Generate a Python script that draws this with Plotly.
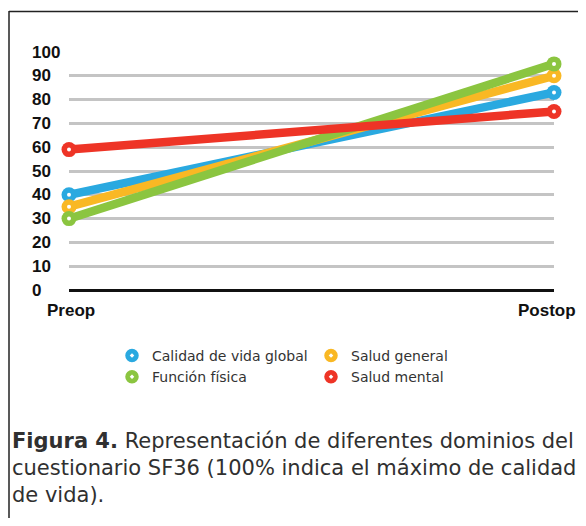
import plotly.graph_objects as go

# ---- data ----
periods = ["Preop", "Postop"]
series_names = ["Calidad de vida global", "Salud general", "Función física", "Salud mental"]
calidad_vida = [40, 83]
salud_general = [35, 90]
funcion_fisica = [30, 95]
salud_mental = [59, 75]
series_values = [calidad_vida, salud_general, funcion_fisica, salud_mental]
series_colors = ["#2AA9E0", "#F9B824", "#8BC540", "#EE3426"]
y_ticks = [0, 10, 20, 30, 40, 50, 60, 70, 80, 90, 100]
caption_lines = [
    "<b>Figura 4.</b> Representación de diferentes dominios del",
    "cuestionario SF36 (100% indica el máximo de calidad",
    "de vida).",
]

# page has an 8px body margin: figure is placed at (8, 8)
OFF = 8
W, H = 586 - 2 * OFF, 526 - 2 * OFF
PL, PR, PT, PB = 69, 554, 52, 290          # plot area in page pixels
ML, MT = PL - OFF, PT - OFF
MR, MB = W - (PR - OFF), H - (PB - OFF)
PW, PH = W - ML - MR, H - MT - MB


def px(x):
    return (x - PL) / PW


def py(y):
    return (PB - y) / PH


fig = go.Figure()
xs = [0, 1]
for name, vals, col in zip(series_names, series_values, series_colors):
    fig.add_trace(go.Scatter(
        x=xs, y=vals, mode="lines+markers", name=name, showlegend=False,
        line=dict(color=col, width=8.5), marker=dict(color=col, size=15),
        cliponaxis=False, hoverinfo="skip"))
    fig.add_trace(go.Scatter(
        x=xs, y=vals, mode="markers", showlegend=False,
        marker=dict(color="white", size=4), cliponaxis=False, hoverinfo="skip"))

# legend entries
for name, col in zip(series_names, series_colors):
    fig.add_trace(go.Scatter(
        x=[None], y=[None], mode="markers", name=name,
        marker=dict(color=col, size=18, symbol="circle-dot",
                    line=dict(color="white", width=2.5))))

fig.update_layout(
    width=W, height=H,
    margin=dict(l=ML, r=MR, t=MT, b=MB, autoexpand=False),
    paper_bgcolor="white", plot_bgcolor="white",
    font=dict(family="Liberation Sans, Arial, sans-serif", color="#333333"),
    xaxis=dict(range=[0, 1], tickvals=xs, showticklabels=False, showgrid=False,
               zeroline=False, showline=False, ticks=""),
    yaxis=dict(range=[0, 100], tickvals=y_ticks, showticklabels=False,
               showgrid=True, gridcolor="#C4C4C4", gridwidth=3,
               zeroline=True, zerolinecolor="#111111", zerolinewidth=3,
               showline=False, ticks=""),
    legend=dict(orientation="h", x=px(112), xanchor="left",
                y=py(340), yanchor="top", entrywidth=154,
                font=dict(family="DejaVu Sans, sans-serif", size=14, color="#333333"),
                bgcolor="rgba(0,0,0,0)", traceorder="normal"),
    showlegend=True,
)

# y tick labels (left aligned, as in the original)
for t in y_ticks:
    fig.add_annotation(x=px(30), y=t, xref="paper", yref="y", text=str(t),
                       showarrow=False, xanchor="left", yanchor="middle",
                       font=dict(size=17, color="#111111", weight="bold"))

# x tick labels
for xv, lab in zip(xs, periods):
    fig.add_annotation(x=xv, y=py(310), xref="x", yref="paper", text=lab,
                       showarrow=False, xanchor="center" if xv == 0 else "right",
                       xshift=2 if xv == 0 else 24, yanchor="middle",
                       font=dict(size=17, color="#111111", weight="bold"))

for i, line in enumerate(caption_lines):
    fig.add_annotation(x=px(10), y=py(441 + 27 * i), xref="paper", yref="paper",
                       text=line, showarrow=False, xanchor="left", yanchor="middle",
                       font=dict(family="DejaVu Sans, sans-serif", size=21, color="#303030"))

# frame
fig.add_shape(type="line", xref="paper", yref="paper", x0=px(9), x1=px(9),
              y0=py(11), y1=py(530), line=dict(color="#222222", width=1.5))
fig.add_shape(type="line", xref="paper", yref="paper", x0=px(9), x1=px(590),
              y0=py(11.5), y1=py(11.5), line=dict(color="#222222", width=1.5))

fig.write_html("out.html")
